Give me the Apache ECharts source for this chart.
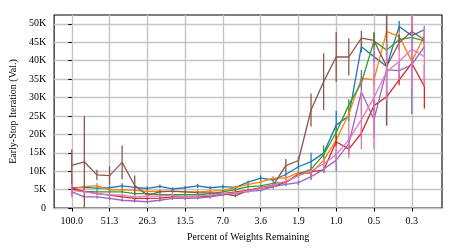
<!DOCTYPE html>
<html><head><meta charset="utf-8">
<script src="https://cdn.jsdelivr.net/npm/echarts@6/dist/echarts.min.js"></script>
<style>html,body{margin:0;padding:0;background:#fff}#c{width:457px;height:252px}</style>
</head><body><div id="c"></div>
<script>
// x positions are pruning iterations 0..28; tick labels = percent of weights remaining
const xTickIdx = [0, 3, 6, 9, 12, 15, 18, 21, 24, 27];
const xTickLabels = ['100.0', '51.3', '26.3', '13.5', '7.0', '3.6', '1.9', '1.0', '0.5', '0.3'];
const yTicks = [0, 5, 10, 15, 20, 25, 30, 35, 40, 45, 50];
const iterIdx = [0,1,2,3,4,5,6,7,8,9,10,11,12,13,14,15,16,17,18,19,20,21,22,23,24,25,26,27,28];

// values in thousands of iterations
const blueVals   = [5.5,5.6,5.4,5.5,6.0,5.6,5.3,5.9,5.2,5.5,6.0,5.5,5.8,5.6,7.0,8.1,7.6,9.1,11.2,12.6,14.9,22.5,25.0,43.8,41.1,38.4,49.3,46.8,48.4];
const blueErr    = [0.5,0.4,0.4,0.5,0.7,0.4,0.6,0.5,0.4,0.5,0.6,0.4,0.5,0.4,0.5,0.8,0.5,0.6,0.8,2.4,1.0,3.9,1.5,1.5,1.5,16,1.5,1.5,1.0];
const orangeVals = [5.2,5.8,6.1,4.9,5.0,4.8,4.5,4.6,4.5,4.4,4.4,4.6,4.8,5.5,6.4,7.0,8.1,8.1,9.6,9.4,13.0,18.5,25.5,35.2,34.8,47.9,46.6,39.8,46.7];
const orangeErr  = [0.5,0.4,0.7,0.4,0.4,0.4,0.4,0.4,0.4,0.4,0.4,0.4,0.4,0.4,0.5,0.5,0.5,0.6,0.8,1.8,1.0,1.5,1.5,1.5,1.5,1.5,1.5,1.5,2.0];
const greenVals  = [5.1,4.5,4.4,4.4,4.4,3.9,3.9,3.6,3.6,3.6,3.6,3.9,4.4,5.0,5.8,6.0,6.7,7.0,9.2,10.5,14.5,20.5,28.0,34.0,45.3,42.9,45.7,46.3,45.4];
const greenErr   = [0.4,0.4,0.4,0.4,0.4,0.4,0.4,0.4,0.4,0.4,0.4,0.4,0.4,0.4,0.4,0.4,0.5,0.5,0.6,0.8,2.5,1.0,1.5,1.5,2.5,1.5,1.5,1.5,2.0];
const redVals    = [5.3,4.5,3.9,3.5,3.0,2.6,2.6,2.7,3.0,3.0,3.0,3.2,3.9,4.4,4.8,5.4,5.8,7.0,9.0,9.9,10.3,18.0,16.0,20.3,27.8,30.2,34.8,39.3,33.0];
const redErr     = [2.2,0.4,0.4,0.4,0.4,0.4,0.4,0.4,0.4,0.4,0.4,0.4,0.4,0.4,0.4,0.5,0.5,0.5,0.6,0.8,0.8,1.5,1.5,1.5,1.5,1.5,1.5,1.0,6.0];
const purpleVals = [4.4,3.0,3.0,2.6,2.1,1.9,1.7,2.1,2.6,2.6,2.7,3.0,3.6,3.9,4.5,4.8,5.8,6.4,6.9,8.5,10.5,13.0,17.5,31.5,24.0,37.5,37.3,38.9,43.8];
const purpleErr  = [0.4,0.4,0.4,0.4,0.4,0.4,0.4,0.4,0.4,0.4,0.4,0.4,0.4,0.4,0.4,0.4,0.5,0.5,0.6,0.8,1.0,3.0,2.0,6.0,5.0,2.0,2.0,13.4,2.0];
const brownVals  = [11.6,12.5,9.0,8.8,12.4,6.1,3.5,4.4,4.6,4.4,4.2,4.1,3.9,3.3,4.8,5.5,6.2,11.5,12.9,26.6,34.3,41.0,41.0,46.1,45.5,38.4,44.9,47.9,45.7];
const brownErr   = [4.3,12.5,1.4,2.5,4.6,2.7,0.5,0.4,0.4,0.4,0.4,0.4,0.4,0.4,0.4,0.5,0.5,1.8,1.0,4.5,7.7,6.8,5.0,2.0,2.0,16,2.0,2.0,1.0];
const pinkVals   = [4.8,4.4,3.9,3.6,3.5,3.0,3.2,3.2,3.5,3.0,3.2,3.5,3.9,4.1,4.6,5.3,6.2,7.2,8.8,10.0,12.0,14.5,18.5,24.0,30.0,37.0,39.8,43.1,41.1];
const pinkErr    = [1.8,0.6,0.4,0.4,0.4,0.4,0.4,0.4,0.4,0.4,0.4,0.4,0.4,0.4,0.4,0.5,0.5,0.6,0.8,1.0,1.5,2.5,5.0,8.0,14.0,8.0,5.0,11.0,8.0];

const seriesDefs = [
  {name: 'Run 1', vals: blueVals,   err: blueErr,   color: '#1f77b4'},
  {name: 'Run 2', vals: orangeVals, err: orangeErr, color: '#ff7f0e'},
  {name: 'Run 3', vals: greenVals,  err: greenErr,  color: '#2ca02c'},
  {name: 'Run 4', vals: redVals,    err: redErr,    color: '#d62728'},
  {name: 'Run 5', vals: purpleVals, err: purpleErr, color: '#9467bd'},
  {name: 'Run 6', vals: brownVals,  err: brownErr,  color: '#8c564b'},
  {name: 'Run 7', vals: pinkVals,   err: pinkErr,   color: '#e377c2'}
];

const FONT = 'Liberation Serif';
const chart = echarts.init(document.getElementById('c'), null, {renderer: 'canvas'});

function errRender(color) {
  return function (params, api) {
    const x = api.value(0), lo = api.value(1), hi = api.value(2);
    const p1 = api.coord([x, lo]), p2 = api.coord([x, hi]);
    const cs = params.coordSys;
    const top = cs.y, bot = cs.y + cs.height;
    const y1 = Math.min(Math.max(p1[1], top), bot);
    const y2 = Math.min(Math.max(p2[1], top), bot);
    return {type: 'line', shape: {x1: p1[0], y1: y1, x2: p2[0], y2: y2},
            style: {stroke: color, lineWidth: 1.3}};
  };
}

const series = [];
seriesDefs.forEach(function (s, k) {
  series.push({
    type: 'custom', name: s.name + ' err', z: 10 + 2 * k, silent: true,
    renderItem: errRender(s.color),
    encode: {x: 0, y: [1, 2]},
    data: iterIdx.map(function (i) { return [i, s.vals[i] - s.err[i], s.vals[i] + s.err[i]]; })
  });
  series.push({
    type: 'line', name: s.name, z: 11 + 2 * k, symbol: 'none', silent: true,
    lineStyle: {color: s.color, width: 1.3}, itemStyle: {color: s.color},
    data: iterIdx.map(function (i) { return [i, s.vals[i]]; })
  });
});

chart.setOption({
  animation: false,
  backgroundColor: '#fff',
  grid: {left: 51, right: 15, top: 15, bottom: 44, show: true, borderColor: '#000', borderWidth: 1.1, backgroundColor: 'transparent'},
  xAxis: {
    type: 'value', min: -1.4, max: 29.4,
    name: 'Percent of Weights Remaining', nameLocation: 'middle', nameGap: 24,
    nameTextStyle: {fontFamily: FONT, fontSize: 10, color: '#000'},
    axisLine: {show: false},
    axisTick: {show: true, customValues: xTickIdx, length: 3.5, lineStyle: {color: '#000', width: 1}},
    axisLabel: {customValues: xTickIdx, fontFamily: FONT, fontSize: 10, color: '#000', margin: 8,
      formatter: function (v) { const j = xTickIdx.indexOf(Math.round(v)); return j >= 0 ? xTickLabels[j] : ''; }},
    splitLine: {show: true, lineStyle: {color: '#c4c4c4', width: 1.4}}
  },
  yAxis: {
    type: 'value', min: 0, max: 52.4,
    name: 'Early-Stop Iteration (Val.)', nameLocation: 'middle', nameGap: 36,
    nameTextStyle: {fontFamily: FONT, fontSize: 10, color: '#000'},
    axisLine: {show: false},
    axisTick: {show: true, customValues: yTicks, length: 3.5, lineStyle: {color: '#000', width: 1}},
    axisLabel: {customValues: yTicks, fontFamily: FONT, fontSize: 10, color: '#000', margin: 8,
      formatter: function (v) { return v === 0 ? '0' : Math.round(v) + 'K'; }},
    splitLine: {show: true, lineStyle: {color: '#c4c4c4', width: 1.4}}
  },
  series: series
});
</script></body></html>
